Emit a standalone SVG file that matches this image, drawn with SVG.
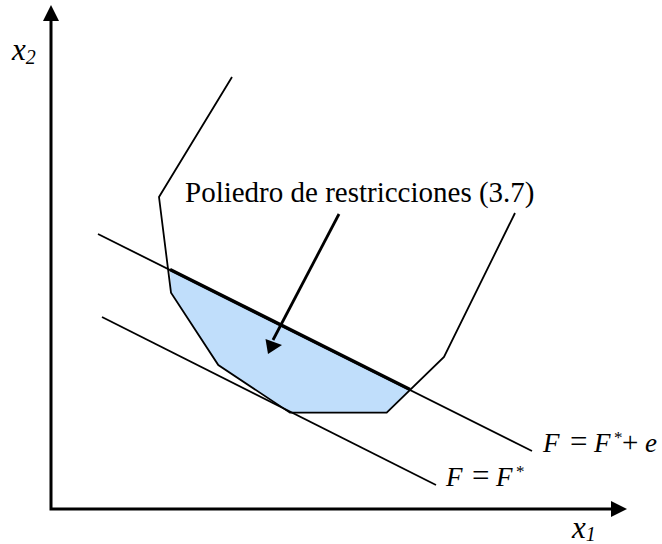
<svg xmlns="http://www.w3.org/2000/svg" width="662" height="544" viewBox="0 0 662 544">
<defs>
<style>
.ax{stroke:#000;stroke-width:3;fill:none}
.ln{stroke:#000;stroke-width:1.8;fill:none;stroke-linejoin:miter}
.t{font-family:"Liberation Serif","Times New Roman",serif;fill:#000}
.it{font-style:italic}
</style>
</defs>
<rect width="662" height="544" fill="#fff"/>
<g id="region">
<polygon points="170,270 171,292.7 218.3,365 290,412.7 386.7,412.7 410,389.3" fill="#C0DEFB" stroke="none"/>
<line x1="170" y1="269.5" x2="410" y2="389.5" stroke="#000" stroke-width="3.5"/>
</g>
<g id="boundary">
<polyline class="ln" points="232,77 159,197 171,292.7 218.3,365 290,412.7 386.7,412.7 444,357 515,213"/>
</g>
<g id="lines">
<line class="ln" x1="98" y1="234" x2="532" y2="451"/>
<line class="ln" x1="102" y1="317" x2="436" y2="485"/>
</g>
<g id="axes">
<polyline class="ax" points="51,18 51,509 614,509"/>
<polygon points="51,5 43,21 59,21" fill="#000"/>
<polygon points="627,509 611,501 611,517" fill="#000"/>
</g>
<g id="arrow">
<line x1="339" y1="214" x2="273" y2="340" stroke="#000" stroke-width="2.8"/>
<polygon points="268,354 265.5,339 282,345" fill="#000"/>
</g>
<g id="labels">
<text class="t" x="185" y="202" font-size="29">Poliedro de restricciones (3.7)</text>
<text class="t it" x="12" y="60" font-size="31">x<tspan font-size="20" dy="4">2</tspan></text>
<text class="t it" x="572" y="538" font-size="31">x<tspan font-size="20" dy="3">1</tspan></text>
<text class="t" y="452" font-size="27"><tspan class="it" x="543">F</tspan><tspan x="570" font-size="31">=</tspan><tspan class="it" x="594">F</tspan><tspan x="614" dy="-9" font-size="17">*</tspan><tspan x="622" dy="9" font-size="29">+</tspan><tspan class="it" x="645">e</tspan></text>
<text class="t" y="486" font-size="27"><tspan class="it" x="446">F</tspan><tspan x="472" font-size="31">=</tspan><tspan class="it" x="496">F</tspan><tspan x="516" dy="-9" font-size="17">*</tspan></text>
</g>
</svg>
